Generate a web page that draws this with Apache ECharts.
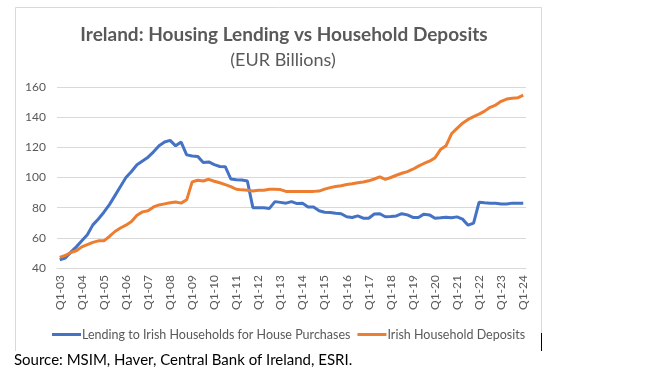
<!DOCTYPE html>
<html>
<head>
<meta charset="utf-8">
<script src="https://cdn.jsdelivr.net/npm/echarts@6/dist/echarts.min.js"></script>
<style>
html,body{margin:0;padding:0;background:#fff;}
#chart{width:652px;height:383px;}
</style>
</head>
<body>
<div id="chart"></div>
<script>
// Quarterly categories Q1-03 .. Q1-24
const years = ['03','04','05','06','07','08','09','10','11','12','13','14','15','16','17','18','19','20','21','22','23','24'];
const categories = [];
years.forEach((y, k) => {
  const qs = k === years.length - 1 ? [1] : [1, 2, 3, 4];
  qs.forEach(q => categories.push('Q' + q + '-' + y));
});

const lending = [
  45.5, 46.6, 50.5, 54, 58, 62, 68.6, 72.5, 77, 82,
  88, 94, 100, 104, 108.5, 111, 113.5, 117, 121, 123.5,
  124.6, 121, 123.5, 115, 114.3, 114, 110, 110.3, 108.5, 107.3,
  107.2, 99, 98.5, 98.3, 97.7, 80, 80, 80, 79.5, 84,
  83.5, 83, 84, 82.7, 83, 80.5, 80.5, 78, 77, 76.8,
  76.3, 76, 74, 73.5, 74.6, 73, 73, 75.8, 76, 74,
  74.2, 74.5, 76, 75.2, 73.5, 73.5, 75.7, 75.2, 73, 73.3,
  73.7, 73.3, 73.9, 72.4, 68.4, 69.8, 83.6, 83.2, 83, 83,
  82.5, 82.4, 83, 83, 83
];
const deposits = [
  47, 48.3, 50.3, 51.4, 54, 55.5, 57, 58, 58, 60.9,
  64.2, 66.5, 68.4, 70.8, 75, 77.2, 77.9, 80.5, 81.8, 82.5,
  83.2, 83.7, 83, 85.2, 97.1, 98.2, 97.7, 98.8, 97.5, 96.5,
  95.3, 94, 92.2, 91.8, 91.6, 91.1, 91.6, 91.6, 92.2, 92.2,
  92, 90.8, 90.8, 90.8, 90.8, 90.8, 90.8, 91, 92.3, 93.3,
  94, 94.5, 95.3, 95.8, 96.5, 97, 97.8, 99, 100.4, 98.8,
  100, 101.5, 102.8, 103.9, 105.5, 107.5, 109.3, 110.8, 113, 118.5,
  121, 129, 132.6, 136, 138.5, 140.3, 142, 144, 146.5, 148,
  150.5, 152, 152.6, 152.8, 154.6
];
const seriesNames = ['Lending to Irish Households for House Purchases', 'Irish Household Deposits'];
const yTicks = { min: 40, max: 160, interval: 20 };

const font = 'Lato';
const chart = echarts.init(document.getElementById('chart'), null, { renderer: 'canvas' });
chart.setOption({
  animation: false,
  backgroundColor: '#fff',
  title: [
    { text: 'Ireland: Housing Lending vs Household Deposits', left: 279, top: 20, textAlign: 'center',
      textStyle: { fontFamily: font, fontWeight: 'bold', fontSize: 19, color: '#595959' } },
    { text: '(EUR Billions)', left: 278, top: 46, textAlign: 'center',
      textStyle: { fontFamily: font, fontWeight: 'normal', fontSize: 18, color: '#595959' } }
  ],
  legend: {
    left: 47, top: 323, itemGap: 7, itemWidth: 29, itemHeight: 3, icon: 'rect',
    textStyle: { fontFamily: font, fontSize: 12.5, color: '#595959', padding: [0, 0, 0, -4] },
    data: seriesNames
  },
  grid: { left: 57, right: 126, top: 87, bottom: 115 },
  xAxis: {
    type: 'category', data: categories, boundaryGap: true,
    axisLine: { show: true, lineStyle: { color: '#d9d9d9', width: 1 } },
    axisTick: { show: false },
    axisLabel: { interval: 3, rotate: 90, margin: 7, fontFamily: font, fontSize: 12, color: '#595959' },
    splitLine: { show: false }
  },
  yAxis: {
    type: 'value', min: yTicks.min, max: yTicks.max, interval: yTicks.interval,
    axisLine: { show: false }, axisTick: { show: false },
    axisLabel: { margin: 11, fontFamily: font, fontSize: 12, color: '#595959' },
    splitLine: { lineStyle: { color: '#d9d9d9', width: 1 } }
  },
  series: [
    { name: seriesNames[0], type: 'line', data: lending, showSymbol: false, symbol: 'none',
      lineStyle: { color: '#4472C4', width: 3 }, itemStyle: { color: '#4472C4' } },
    { name: seriesNames[1], type: 'line', data: deposits, showSymbol: false, symbol: 'none',
      lineStyle: { color: '#ED7D31', width: 3 }, itemStyle: { color: '#ED7D31' } }
  ],
  graphic: [
    { type: 'polyline', shape: { points: [[15.5, 351], [15.5, 7.5], [541.5, 7.5], [541.5, 333]] },
      style: { stroke: '#d9d9d9', lineWidth: 1, fill: null }, silent: true },
    { type: 'line', shape: { x1: 541.5, y1: 333, x2: 541.5, y2: 351 },
      style: { stroke: '#000', lineWidth: 1 }, silent: true },
    { type: 'text', left: 14, top: 353,
      style: { text: 'Source: MSIM, Haver, Central Bank of Ireland, ESRI.', fontFamily: font, fontSize: 15, fill: '#000' } }
  ]
});
</script>
</body>
</html>
